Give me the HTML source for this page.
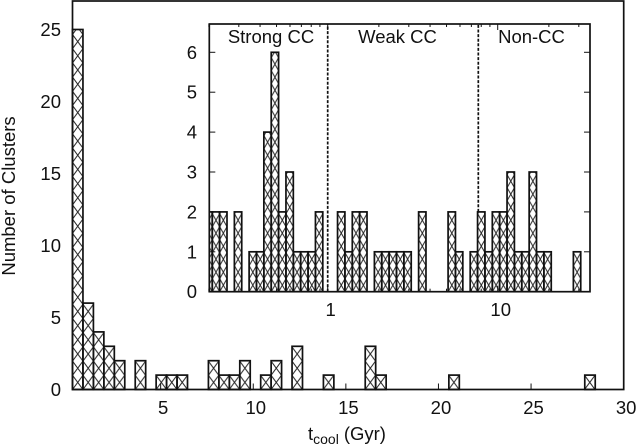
<!DOCTYPE html>
<html>
<head>
<meta charset="utf-8">
<title>Cooling time histogram</title>
<style>
html,body{margin:0;padding:0;background:#fff}
svg{display:block}
text{font-family:"Liberation Sans",sans-serif;font-size:18.5px;fill:#111}
</style>
</head>
<body>
<svg id="chart" xmlns="http://www.w3.org/2000/svg" width="636" height="446" viewBox="0 0 636 446">
<defs>
<pattern id="hatchMain" patternUnits="userSpaceOnUse" x="72.5" y="389.5" width="10.45" height="14.2">
<path d="M0,0L10.45,14.2M10.45,0L0,14.2" stroke="#222" stroke-width="1" fill="none"/>
</pattern>
<pattern id="hatchInset" patternUnits="userSpaceOnUse" x="212.3" y="291.7" width="7.37" height="13">
<path d="M0,0L7.37,13M7.37,0L0,13" stroke="#222" stroke-width="1" fill="none"/>
</pattern>
<clipPath id="insetClip"><rect x="209.3" y="24" width="380.7" height="267.7"/></clipPath>
</defs>
<g id="mainBars"></g>
<g id="mainAxes"></g>
<g id="insetBars" clip-path="url(#insetClip)"></g>
<g id="insetLines"></g>
<g id="insetAxes"></g>
<text x="271" y="43" text-anchor="middle">Strong CC</text>
<text x="397.5" y="43" text-anchor="middle">Weak CC</text>
<text x="531.5" y="43" text-anchor="middle">Non-CC</text>
<text x="308" y="440">t<tspan dy="4" style="font-size:14px">cool</tspan><tspan dy="-4" dx="5">(Gyr)</tspan></text>
<text transform="translate(15,196) rotate(-90)" text-anchor="middle">Number of Clusters</text>
</svg>
<script>
var mainCounts = [25,6,4,3,2,0,2,0,1,1,1,0,0,2,1,1,2,0,1,2,0,3,0,0,1,0,0,0,3,1,0,0,0,0,0,0,1,0,0,0,0,0,0,0,0,0,0,0,0,1];
var mainFirstBin = 0.24;
var mainBinWidth = 0.5645;
var mainXTicks = [5,10,15,20,25,30];
var mainYTicks = [0,5,10,15,20,25];
var insetCounts = [2,2,2,0,2,0,1,1,4,6,2,3,1,1,1,2,0,0,2,1,2,2,0,1,1,1,1,1,0,2,0,0,0,2,1,0,1,2,1,2,2,3,1,1,3,1,1,0,0,0,1];
var insetFirstLog = -0.7224;
var insetBinDex = 0.04335;
var insetYTicks = [0,1,2,3,4,5,6];
var insetMajorX = [1,10];
var insetMinorX = [0.2,0.3,0.4,0.5,0.6,0.7,0.8,0.9,2,3,4,5,6,7,8,9,20,30];
var dividers = [1,7.69];
var dividerTopCount = [0,2];

var NS = 'http://www.w3.org/2000/svg';
function mx(t){ return 72.5 + (t - 0.24) * 18.52; }
function my(v){ return 389.5 - v * 14.4; }
function ix(t){ return 327.7 + Math.log10(t) * 170; }
function iy(v){ return 291.7 - v * 39.9; }
function line(parent,x1,y1,x2,y2,w){
  var l = document.createElementNS(NS,'line');
  l.setAttribute('x1',x1);l.setAttribute('y1',y1);l.setAttribute('x2',x2);l.setAttribute('y2',y2);
  l.setAttribute('stroke','#111');l.setAttribute('stroke-width',w);
  parent.appendChild(l);
  return l;
}
function label(parent,x,y,anchor,s){
  var t = document.createElementNS(NS,'text');
  t.setAttribute('x',x);t.setAttribute('y',y);t.setAttribute('text-anchor',anchor);
  t.textContent = s;
  parent.appendChild(t);
  return t;
}
function bar(parent,x0,x1,y0,y1,fill){
  var r = document.createElementNS(NS,'rect');
  r.setAttribute('x',x0);r.setAttribute('y',y1);
  r.setAttribute('width',x1-x0);r.setAttribute('height',y0-y1);
  r.setAttribute('fill',fill);r.setAttribute('stroke','#111');r.setAttribute('stroke-width','1.7');
  parent.appendChild(r);
  return r;
}
var mainBars = document.getElementById('mainBars');
var mainAxes = document.getElementById('mainAxes');
var insetBars = document.getElementById('insetBars');
var insetLines = document.getElementById('insetLines');
var insetAxes = document.getElementById('insetAxes');

mainCounts.forEach(function(c,i){
  if(!c) return;
  var r = bar(mainBars,mx(mainFirstBin+i*mainBinWidth),mx(mainFirstBin+(i+1)*mainBinWidth),my(0),my(c),'url(#hatchMain)');
  
  
});
var mainFrame = document.createElementNS(NS,'rect');
mainFrame.setAttribute('x',72.5);mainFrame.setAttribute('y',1);
mainFrame.setAttribute('width',551.2);mainFrame.setAttribute('height',388.5);
mainFrame.setAttribute('fill','none');mainFrame.setAttribute('stroke','#111');mainFrame.setAttribute('stroke-width','1.7');


mainAxes.appendChild(mainFrame);
mainXTicks.forEach(function(t){
  var tk = line(mainAxes,mx(t),my(0),mx(t),my(0)-6,1);
  
  
  var lb = label(mainAxes,mx(t)+2.5,414,'middle',String(t));
  
  
});
mainYTicks.forEach(function(v){
  var lb = label(mainAxes,61,my(v)+6.5,'end',String(v));
  
  
});

insetCounts.forEach(function(c,i){
  if(!c) return;
  var a = Math.pow(10,insetFirstLog+i*insetBinDex);
  var b = Math.pow(10,insetFirstLog+(i+1)*insetBinDex);
  var r = bar(insetBars,ix(a),ix(b),iy(0),iy(c),'url(#hatchInset)');
  
  
});
dividers.forEach(function(t,i){
  var d = line(insetLines,ix(t),iy(dividerTopCount[i]),ix(t),24,1.7);
  d.setAttribute('stroke-dasharray','3 1.6');
  
  
});
var insetFrame = document.createElementNS(NS,'rect');
insetFrame.setAttribute('x',209.3);insetFrame.setAttribute('y',24);
insetFrame.setAttribute('width',380.7);insetFrame.setAttribute('height',267.7);
insetFrame.setAttribute('fill','none');insetFrame.setAttribute('stroke','#111');insetFrame.setAttribute('stroke-width','1.7');


insetAxes.appendChild(insetFrame);
insetYTicks.forEach(function(v){
  if(v>0){
    var a = line(insetAxes,209.3,iy(v),215.3,iy(v),1);
    
    
    var b = line(insetAxes,590,iy(v),584,iy(v),1);
    
    
  }
  var lb = label(insetAxes,197,iy(v)+6.5,'end',String(v));
  
  
});
insetMinorX.forEach(function(t){
  var a = line(insetAxes,ix(t),291.7,ix(t),288.7,1);
  
  
  var b = line(insetAxes,ix(t),24,ix(t),27,1);
  
  
});
insetMajorX.forEach(function(t){
  var a = line(insetAxes,ix(t),291.7,ix(t),285.7,1);
  
  
  var b = line(insetAxes,ix(t),24,ix(t),30,1);
  
  
  var lb = label(insetAxes,ix(t)+3,316,'middle',String(t));
  
  
});
</script>
</body>
</html>
